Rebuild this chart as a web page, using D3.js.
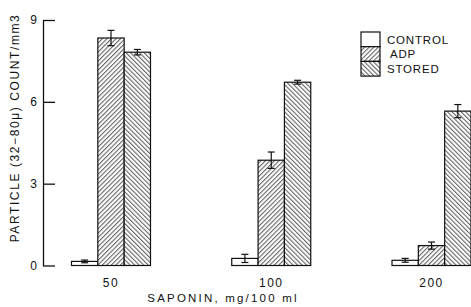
<!DOCTYPE html>
<html>
<head>
	<meta charset='utf-8'>
	<script src="https://cdnjs.cloudflare.com/ajax/libs/d3/7.8.5/d3.min.js" charset="utf-8"></script>
	<style>
	body {
		margin:0;
		background:#fff;
	}
	text {
		font-family:'Liberation Sans', Arial, sans-serif;
		fill:#111;
	}
	</style>
</head>
<body>
	<script>

	// saponin doses and the three series
	var doses = ['50', '100', '200'];
	var series = ['CONTROL', 'ADP', 'STORED'];

	var controlVals = [0.15, 0.26, 0.19],
		controlErr = [0.05, 0.15, 0.07];
	var adpVals = [8.34, 3.86, 0.73],
		adpErr = [0.28, 0.3, 0.13];
	var storedVals = [7.82, 6.72, 5.66],
		storedErr = [0.1, 0.07, 0.24];

	var yTicks = [0, 3, 6, 9];

	var canvasWidth = 471,
		canvasHeight = 307;

	var svg = d3.select('body').append('svg')
		.attr('width', canvasWidth).attr('height', canvasHeight);

	// hatch patterns
	var defs = svg.append('defs');
	function hatch(id, angle) {
		var p = defs.append('pattern').attr('id', id)
			.attr('patternUnits', 'userSpaceOnUse')
			.attr('width', 3.2).attr('height', 10)
			.attr('patternTransform', 'rotate(' + angle + ')');
		p.append('rect').attr('width', 3.2).attr('height', 10).attr('fill', '#fff');
		p.append('line').attr('x1', 0.6).attr('x2', 0.6).attr('y1', 0).attr('y2', 10)
			.attr('stroke', '#444').attr('stroke-width', 0.9);
	}
	hatch('adpHatch', 45);
	hatch('storedHatch', -45);
	var fills = {'CONTROL': '#fff', 'ADP': 'url(#adpHatch)', 'STORED': 'url(#storedHatch)'};

	var y = d3.scaleLinear().domain([0, 9]).range([265.5, 20]);
	var x = d3.scalePoint().domain(doses).range([111, 431.5]);
	var xs = d3.scaleBand().domain(series).range([-39.5, 39.5]).padding(0);

	var rows = [];
	doses.forEach(function (d, i) {
		rows.push({dose: d, s: 'CONTROL', v: controlVals[i], e: controlErr[i]});
		rows.push({dose: d, s: 'ADP', v: adpVals[i], e: adpErr[i]});
		rows.push({dose: d, s: 'STORED', v: storedVals[i], e: storedErr[i]});
	});

	// y axis
	var yAxis = d3.axisLeft(y).tickValues(yTicks).tickSizeInner(-12).tickSizeOuter(0).tickPadding(6);
	var yg = svg.append('g').attr('transform', 'translate(43,0)').call(yAxis);
	yg.select('.domain').attr('stroke', '#111').attr('stroke-width', 1.3);
	yg.selectAll('.tick line').attr('stroke', '#111').attr('stroke-width', 1.3);
	yg.selectAll('.tick text').style('font-size', '12px').attr('fill', '#111');

	// bars
	var bars = svg.append('g');
	bars.selectAll('rect').data(rows).enter().append('rect')
		.attr('x', function (d) { return x(d.dose) + xs(d.s); })
		.attr('width', xs.bandwidth())
		.attr('y', function (d) { return y(d.v); })
		.attr('height', function (d) { return y(0) - y(d.v); })
		.attr('fill', function (d) { return fills[d.s]; })
		.attr('stroke', '#111').attr('stroke-width', 1.2);

	// error bars
	var eg = svg.append('g').attr('stroke', '#111').attr('stroke-width', 1.2);
	rows.forEach(function (d) {
		var cx = x(d.dose) + xs(d.s) + xs.bandwidth() / 2;
		eg.append('line').attr('x1', cx).attr('x2', cx).attr('y1', y(d.v + d.e)).attr('y2', y(d.v - d.e));
		eg.append('line').attr('x1', cx - 3.5).attr('x2', cx + 3.5).attr('y1', y(d.v + d.e)).attr('y2', y(d.v + d.e));
		eg.append('line').attr('x1', cx - 3.5).attr('x2', cx + 3.5).attr('y1', y(d.v - d.e)).attr('y2', y(d.v - d.e));
	});

	// x tick labels
	svg.append('g').selectAll('text').data(doses).enter().append('text')
		.attr('x', function (d) { return x(d); })
		.attr('y', 287)
		.attr('text-anchor', 'middle')
		.style('font-size', '12px').style('letter-spacing', '1.5px')
		.text(function (d) { return d; });

	// axis titles
	svg.append('text').attr('x', 223).attr('y', 302).attr('text-anchor', 'middle')
		.style('font-size', '11.5px').style('letter-spacing', '2.2px')
		.text('SAPONIN, mg/100 ml');
	svg.append('text').attr('transform', 'translate(19,128) rotate(-90)').attr('text-anchor', 'middle')
		.style('font-size', '12px').style('letter-spacing', '1.6px')
		.text('PARTICLE (32\u221280\u03bc) COUNT/mm3');

	// legend
	var legend = svg.append('g').attr('transform', 'translate(361,32)');
	series.forEach(function (s, i) {
		legend.append('rect').attr('x', 0).attr('y', i * 14.7).attr('width', 19).attr('height', 14.7)
			.attr('fill', fills[s]).attr('stroke', '#111').attr('stroke-width', 1.2);
		legend.append('text').attr('x', s == 'ADP' ? 29 : 26).attr('y', i * 14.7 + 11.5)
			.style('font-size', '11.5px').style('letter-spacing', '0.8px')
			.text(s);
	});

	</script>
</body>
</html>
